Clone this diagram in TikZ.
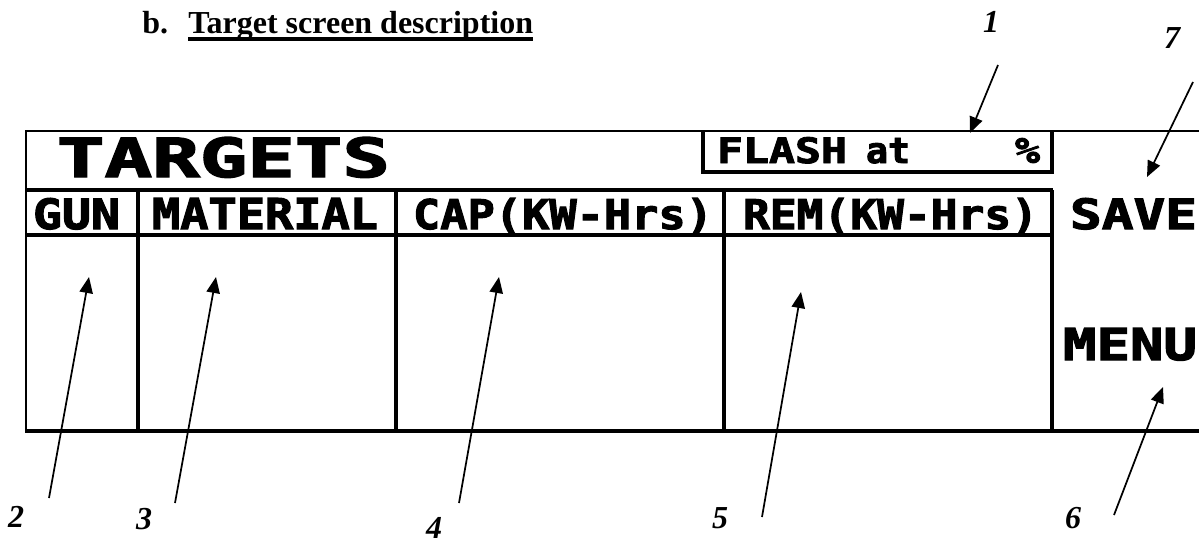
\documentclass[tikz,border=0pt]{standalone}
\usepackage{fontspec}
\usepackage{graphicx}
\setmainfont{Liberation Serif}
\newfontfamily\lcdfont{DejaVu Sans Mono}[BoldFeatures={FakeBold=2.5}]
\usetikzlibrary{arrows.meta}
\newdimen\pxu \pxu=0.75pt
\newcommand\lcd[3]{\resizebox{#1\pxu}{#2\pxu}{\raisebox{0pt}[\height][0pt]{\lcdfont\bfseries\vphantom{X}#3}}}
\begin{document}
\begin{tikzpicture}[x=0.75pt,y=-0.75pt,
  lcdtext/.style={anchor=north west,inner sep=0pt,outer sep=0pt},
  num/.style={font=\fontsize{24}{27}\selectfont\bfseries\itshape,inner sep=0pt},
  ptr/.style={line width=1.3pt,-{Triangle[length=12pt,width=10pt]}},
  frame thin/.style={line width=1.6pt},
  frame thick/.style={line width=3pt},
  frame mid/.style={line width=2.4pt}]
\useasboundingbox (0,0) rectangle (1199,546);

% heading
\node[anchor=base west,inner sep=0pt,font=\fontsize{24}{28}\selectfont\bfseries] (hb) at (142,33) {b.};
\node[anchor=base west,inner sep=0pt,font=\fontsize{24}{28}\selectfont\bfseries] (ht) at (188,33) {Target screen description};
\draw[line width=2.4pt] ([yshift=-4.5pt]ht.base west) -- ([yshift=-4.5pt]ht.base east);

% screen frame
\draw[frame thin] (25,131) -- (1199,131);
\draw[frame thin] (26,131) -- (26,432);
\draw[frame mid] (25,431) -- (1199,431);
\draw[frame thick] (26,190) -- (1053,190);
\draw[frame thick] (26,235) -- (1053,235);
\draw[frame thick] (138,190) -- (138,431);
\draw[frame thick] (396,190) -- (396,431);
\draw[frame thick] (724,190) -- (724,431);
\draw[frame thick] (1052,190) -- (1052,431);
\draw[frame mid] (703,131) -- (703,172) -- (1052,172) -- (1052,131);

% LCD texts
\node[lcdtext] (targets) at (57,137) {\lcd{333}{40}{TARGETS}};
\node[lcdtext] (flash) at (717,137) {\lcd{130}{26}{FLASH}};
\node[lcdtext] (at) at (866,137) {\lcd{44}{26}{at}};
\node[lcdtext] (pct) at (1015,137) {\lcd{25}{26}{\%}};
\node[lcdtext] (gun) at (33,198) {\lcd{87}{31}{GUN}};
\node[lcdtext] (mat) at (152,198) {\lcd{226}{31}{MATERIAL}};
\node[lcdtext] (cap) at (413,198) {\lcd{300}{31}{CAP(KW-Hrs)}};
\node[lcdtext] (rem) at (743,198) {\lcd{295}{31}{REM(KW-Hrs)}};
\node[lcdtext] (save) at (1070,198) {\lcd{127}{31}{SAVE}};
\node[lcdtext] (menu) at (1063,328) {\lcd{134}{32}{MENU}};

% callout numbers
\node[num] (n1) at (991,22) {1};
\node[num] (n7) at (1172,38) {7};
\node[num] (n2) at (16,517) {2};
\node[num] (n3) at (144,519) {3};
\node[num] (n4) at (434,528) {4};
\node[num] (n5) at (720,518) {5};
\node[num] (n6) at (1073,518) {6};

% arrow ends
\coordinate (t1) at (998,65);   \coordinate (h1) at (970,133);
\coordinate (t7) at (1193,82);  \coordinate (h7) at (1147,177);
\coordinate (t2) at (49,498);   \coordinate (h2) at (89,277);
\coordinate (t3) at (175,503);  \coordinate (h3) at (216,277);
\coordinate (t4) at (459,503);  \coordinate (h4) at (499,277);
\coordinate (t5) at (762,517);  \coordinate (h5) at (801,292);
\coordinate (t6) at (1114,515); \coordinate (h6) at (1163,387);

\draw[ptr] (t1) -- (h1);
\draw[ptr] (t7) -- (h7);
\draw[ptr] (t2) -- (h2);
\draw[ptr] (t3) -- (h3);
\draw[ptr] (t4) -- (h4);
\draw[ptr] (t5) -- (h5);
\draw[ptr] (t6) -- (h6);
\end{tikzpicture}
\end{document}
